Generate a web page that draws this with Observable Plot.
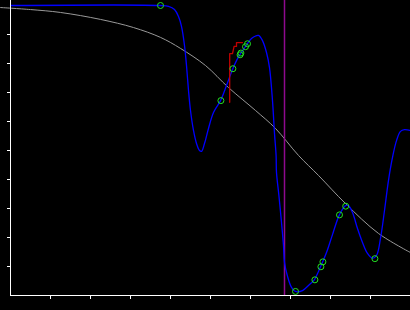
<!DOCTYPE html>
<html>
<head>
<meta charset="utf-8">
<script src="https://cdn.jsdelivr.net/npm/d3@7"></script>
<script src="https://cdn.jsdelivr.net/npm/@observablehq/plot@0.6"></script>
<style>
  html, body { margin: 0; padding: 0; background: #000; }
  #chart svg { display: block; background: #000; }
</style>
</head>
<body>
<div id="chart"></div>
<script>
// Blue curve (objective / posterior)
const blueX = [0, 3.75, 3.95, 4.1, 4.2, 4.275, 4.35, 4.4, 4.45, 4.5, 4.575, 4.65, 4.725, 4.775, 4.85, 4.95, 5.075, 5.25, 5.4, 5.55, 5.65, 5.75, 5.875, 6.0, 6.1, 6.2, 6.3, 6.4, 6.475, 6.55, 6.6, 6.64, 6.65, 6.71, 6.775, 6.825, 6.85, 6.92, 7.025, 7.125, 7.3, 7.475, 7.6, 7.7, 7.775, 7.9, 8.05, 8.225, 8.375, 8.45, 8.55, 8.675, 8.8, 8.925, 9.05, 9.15, 9.25, 9.35, 9.45, 9.55, 9.65, 9.75, 9.85, 10];
const blueY = [10.0, 10.0, 9.97, 9.86, 9.62, 9.28, 8.62, 7.93, 7.07, 6.38, 5.69, 5.24, 5.0, 4.97, 5.24, 5.76, 6.31, 6.72, 7.24, 7.79, 8.1, 8.34, 8.59, 8.83, 8.93, 8.97, 8.79, 8.38, 7.86, 6.72, 5.59, 4.83, 4.24, 3.45, 2.52, 1.72, 1.14, 0.69, 0.28, 0.14, 0.17, 0.38, 0.55, 0.83, 1.07, 1.48, 2.10, 2.79, 3.10, 3.10, 2.86, 2.31, 1.83, 1.45, 1.28, 1.38, 1.97, 2.93, 3.97, 4.76, 5.34, 5.66, 5.72, 5.69];

// Gray sigmoid
const grayX = [-0.25, 0.5, 1.25, 2.25, 3.075, 3.75, 4.25, 4.875, 5.45, 6.125, 6.625, 7.2, 7.7, 8.375, 9.2, 10];
const grayY = [9.93, 9.86, 9.76, 9.52, 9.24, 8.90, 8.52, 7.93, 7.17, 6.38, 5.76, 4.83, 4.14, 3.17, 2.14, 1.48];

// Red step trace
const redX = [5.48, 5.48, 5.55, 5.59, 5.65, 5.65, 5.8];
const redY = [6.66, 8.34, 8.34, 8.59, 8.59, 8.72, 8.72];

// Green sample points
const ptX = [3.75, 5.26, 5.56, 5.74, 5.76, 5.875, 5.925, 7.125, 7.61, 7.76, 7.81, 8.225, 8.38, 9.11];
const ptY = [10.0, 6.72, 7.82, 8.30, 8.36, 8.58, 8.68, 0.14, 0.54, 0.99, 1.16, 2.78, 3.08, 1.27];

// Purple vertical marker
const markerX = [6.85];

// Tick positions
const xTicks = [1, 2, 3, 4, 5, 6, 7, 8, 9];
const yTicks = [1, 2, 3, 4, 5, 6, 7, 8, 9];

const blue = blueX.map((x, i) => ({x, y: blueY[i]}));
const gray = grayX.map((x, i) => ({x, y: grayY[i]}));
const red = redX.map((x, i) => ({x, y: redY[i]}));
const pts = ptX.map((x, i) => ({x, y: ptY[i]}));

const chart = Plot.plot({
  width: 410,
  height: 310,
  marginLeft: 10,
  marginRight: 0,
  marginTop: 0,
  marginBottom: 15,
  style: {background: "#000", color: "white", overflow: "visible"},
  x: {domain: [0, 10], range: [10, 410], axis: null},
  y: {domain: [0, 10], range: [295, 5], axis: null},
  marks: [
    Plot.line(gray, {x: "x", y: "y", stroke: "#999999", strokeWidth: 1, curve: "catmull-rom"}),
    Plot.ruleX(markerX, {stroke: "#8e0a8e", strokeWidth: 1.5}),
    Plot.line(blue, {x: "x", y: "y", stroke: "#0000ff", strokeWidth: 1.3, curve: "catmull-rom"}),
    Plot.line(red, {x: "x", y: "y", stroke: "#c00000", strokeWidth: 1.3}),
    Plot.dot(pts, {x: "x", y: "y", r: 3, stroke: "#22e022", strokeWidth: 1, fill: "none"}),
    Plot.axisX(xTicks, {tickSize: 4, stroke: "white", tickFormat: () => null, label: null}),
    Plot.axisY(yTicks, {tickSize: 3, stroke: "white", tickFormat: () => null, label: null}),
    Plot.ruleX([0], {stroke: "white", strokeWidth: 1}),
    Plot.ruleY([0], {stroke: "white", strokeWidth: 1})
  ]
});
document.getElementById("chart").appendChild(chart);
</script>
</body>
</html>
